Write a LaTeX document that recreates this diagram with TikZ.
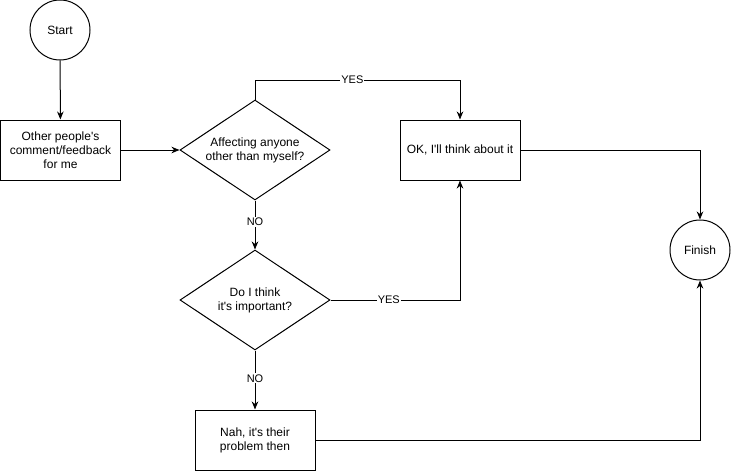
\documentclass[tikz,border=0pt]{standalone}
\usepackage{fontspec}
\setmainfont{Liberation Sans}
\usetikzlibrary{shapes.geometric,arrows.meta}
\newcommand{\ap}{\textquotesingle}
\begin{document}
\begin{tikzpicture}[x=1pt,y=-1pt,
  every node/.style={font=\fontsize{12}{14}\selectfont},
  term/.style={draw,circle,minimum size=60pt,inner sep=0pt,line width=1pt},
  procbox/.style={draw,rectangle,minimum width=120pt,minimum height=60pt,align=center,inner sep=2pt,line width=1pt},
  decision/.style={draw,diamond,minimum width=150pt,minimum height=100pt,aspect=1.5,inner sep=0pt,align=center,line width=1pt},
  conn/.style={line width=1pt,-{Stealth[length=8pt,width=6.5pt,inset=2.5pt]}},
  lbl/.style={fill=white,inner sep=1pt,font=\fontsize{11}{13}\selectfont}]
\useasboundingbox (0,0) rectangle (731,471);
\node[term] (start) at (60,30) {Start};
\node[procbox] (other) at (60.5,150) {Other people\ap s\\comment/feedback\\for me};
\node[decision] (aff) at (255,150) {Affecting anyone\\other than myself?};
\node[procbox] (ok) at (460,150) {OK, I\ap ll think about it};
\node[decision] (imp) at (255,300) {Do I think\\it\ap s important?};
\node[procbox] (nah) at (255,440) {Nah, it\ap s their\\problem then};
\node[term] (fin) at (700,250) {Finish};
\coordinate (c1) at (255,80);
\coordinate (c2) at (460,80);
\coordinate (c3) at (460,300);
\coordinate (c4) at (700,150);
\coordinate (c5) at (700,440);
\draw[conn] (start) -- (other);
\draw[conn] (other) -- (aff);
\draw[conn] (aff.north) -- (c1) -- node[lbl,pos=0.475]{YES} (c2) -- (ok.north);
\draw[conn] (aff.south) -- node[lbl,pos=0.44]{NO} (imp.north);
\draw[conn] (imp.east) -- node[lbl,pos=0.45]{YES} (c3) -- (ok.south);
\draw[conn] (imp.south) -- node[lbl,pos=0.47]{NO} (nah.north);
\draw[conn] (ok.east) -- (c4) -- (fin.north);
\draw[conn] (nah.east) -- (c5) -- (fin.south);
\end{tikzpicture}
\end{document}
